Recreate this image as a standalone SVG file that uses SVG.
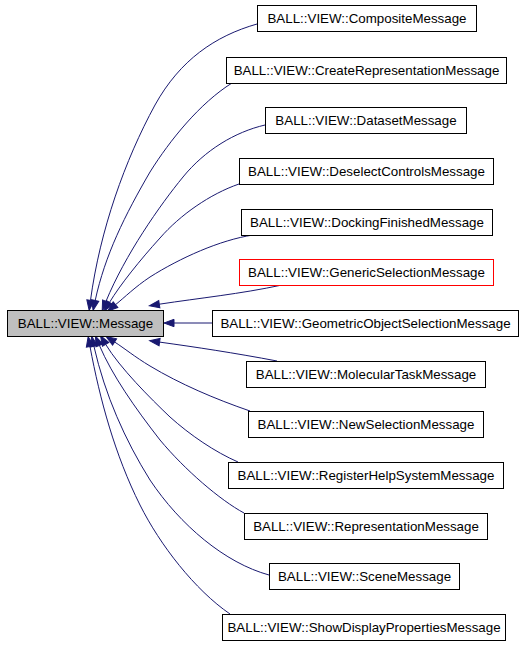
<svg xmlns="http://www.w3.org/2000/svg" width="525" height="645" viewBox="0 0 525 645">
<style>
.n rect{fill:#fff;stroke:#000;stroke-width:1}
.n text{font-family:"Liberation Sans",Arial,sans-serif;font-size:13.33px;fill:#000;text-anchor:middle}
#root rect{fill:#bfbfbf}
#n_generic rect{stroke:#ff0000}
.e path{fill:none;stroke:#191970;stroke-width:1;marker-end:url(#ah)}
</style>
<defs>
<marker id="ah" markerUnits="userSpaceOnUse" markerWidth="12" markerHeight="10" refX="0" refY="4" orient="auto" overflow="visible">
<path d="M0,0.3 L10,4 L0,7.7 Z" fill="#191970" stroke="#191970" stroke-width="1"/>
</marker>
</defs>
<rect width="525" height="645" fill="#fff"/>
<g id="edges" class="e">
<path d="M257,24 C215,36 180,60 155,105 C125,160 100,230 90.5,300.3"/>
<path d="M232,83 C200,103 170,140 150,172 C125,215 105,255 95.2,300.5"/>
<path d="M265,125 C235,132 205,150 183,177 C160,205 125,255 106,301.3"/>
<path d="M239,184 C210,194 180,215 160,238 C140,260 120,285 109.5,302.4"/>
<path d="M253,235 C220,240 180,258 150,277 C135,287 125,297 115.5,304.7"/>
<path d="M282,285 C240,294 200,298 159.3,304.2"/>
<path d="M212,323 L174,323"/>
<path d="M277,361 C235,353 195,347 159.6,342.1"/>
<path d="M250,411 C215,399 180,384 150,366 C135,357 124,348 114.6,342"/>
<path d="M238,462 C215,452 190,435 170,417 C150,398 120,368 105.7,344.4"/>
<path d="M244,513 C220,500 185,470 160,440 C135,408 112,375 99.4,345.4"/>
<path d="M269,575 C225,563 180,525 150,480 C125,440 105,395 93.9,346.2"/>
<path d="M230,614 C195,590 160,545 140,505 C115,455 100,400 90,346.5"/>
</g>
<g id="root" class="n"><rect x="7.5" y="310.5" width="156" height="26"/><text x="85.5" y="328">BALL::VIEW::Message</text></g>
<g id="n_composite" class="n"><rect x="257.5" y="5.5" width="219" height="26"/><text x="367" y="23">BALL::VIEW::CompositeMessage</text></g>
<g id="n_createrep" class="n"><rect x="226.5" y="57.5" width="280" height="26"/><text x="366.5" y="75">BALL::VIEW::CreateRepresentationMessage</text></g>
<g id="n_dataset" class="n"><rect x="265.5" y="107.5" width="201" height="26"/><text x="366" y="125">BALL::VIEW::DatasetMessage</text></g>
<g id="n_deselect" class="n"><rect x="239.5" y="158.5" width="254" height="26"/><text x="366.5" y="176">BALL::VIEW::DeselectControlsMessage</text></g>
<g id="n_docking" class="n"><rect x="241.5" y="209.5" width="251" height="26"/><text x="367" y="227">BALL::VIEW::DockingFinishedMessage</text></g>
<g id="n_generic" class="n"><rect x="239.5" y="259.5" width="254" height="26"/><text x="366.5" y="277">BALL::VIEW::GenericSelectionMessage</text></g>
<g id="n_geometric" class="n"><rect x="212.5" y="310.5" width="306" height="26"/><text x="365.5" y="328">BALL::VIEW::GeometricObjectSelectionMessage</text></g>
<g id="n_moltask" class="n"><rect x="246.5" y="361.5" width="239" height="26"/><text x="366" y="379">BALL::VIEW::MolecularTaskMessage</text></g>
<g id="n_newsel" class="n"><rect x="248.5" y="411.5" width="235" height="26"/><text x="366" y="429">BALL::VIEW::NewSelectionMessage</text></g>
<g id="n_reghelp" class="n"><rect x="228.5" y="462.5" width="275" height="26"/><text x="366" y="480">BALL::VIEW::RegisterHelpSystemMessage</text></g>
<g id="n_repr" class="n"><rect x="244.5" y="513.5" width="243" height="26"/><text x="366" y="531">BALL::VIEW::RepresentationMessage</text></g>
<g id="n_scene" class="n"><rect x="269.5" y="563.5" width="190" height="26"/><text x="364.5" y="581">BALL::VIEW::SceneMessage</text></g>
<g id="n_showdisp" class="n"><rect x="222.5" y="614.5" width="283" height="26"/><text x="364" y="632">BALL::VIEW::ShowDisplayPropertiesMessage</text></g>
</svg>
